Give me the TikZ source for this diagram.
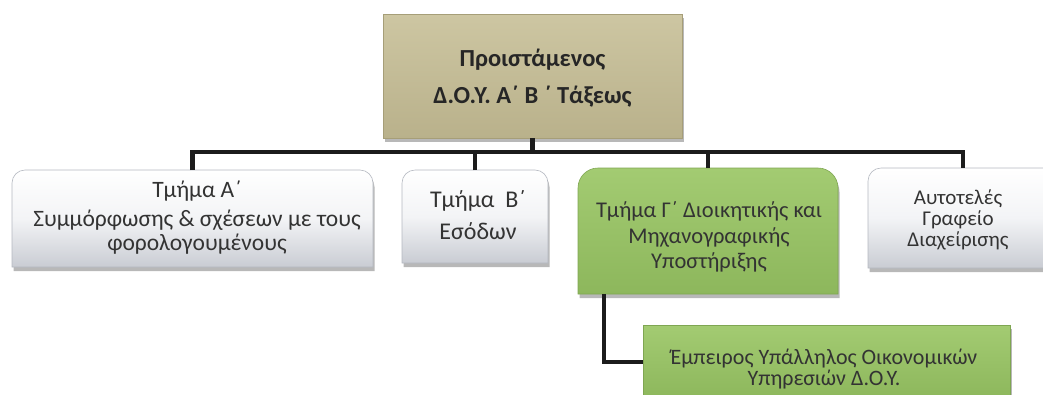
\documentclass[tikz,border=0pt]{standalone}
\usepackage{fontspec}
\setmainfont{Carlito}
\usetikzlibrary{shadows}
\definecolor{wTop}{HTML}{FFFFFF}
\definecolor{wMid}{HTML}{F3F4F6}
\definecolor{wBot}{HTML}{C9CCD3}
\definecolor{wEdge}{HTML}{B4B8C0}
\definecolor{gTop}{HTML}{A3CB72}
\definecolor{gBot}{HTML}{8DB75C}
\definecolor{gEdge}{HTML}{7FA652}
\definecolor{kTop}{HTML}{CDC6A2}
\definecolor{kBot}{HTML}{B9B18B}
\definecolor{kEdge}{HTML}{A69E78}
\definecolor{lineC}{HTML}{1C1C1C}
\definecolor{txtC}{HTML}{333333}
\begin{document}
\begin{tikzpicture}[x=1pt,y=-1pt,
  boxnode/.style={inner sep=0pt, outer sep=0pt, draw=none},
  shad/.style={drop shadow={shadow xshift=1.5pt, shadow yshift=-4pt, opacity=0.28, fill=black}},
  whitebox/.style={shad, draw=wEdge, line width=0.6pt, top color=wTop, bottom color=wBot, middle color=wMid},
  greenbox/.style={shad, draw=gEdge, line width=0.6pt, top color=gTop, bottom color=gBot},
  khakibox/.style={shad, draw=kEdge, line width=0.6pt, top color=kTop, bottom color=kBot},
  conn/.style={draw=lineC, line width=4.5pt},
  txt/.style={align=center, text=txtC, inner sep=0pt}
]
\useasboundingbox (0,0) rectangle (1043,394);
% box frames
\node[boxnode, minimum width=299pt, minimum height=124pt] (top) at (532.5,76) {};
\node[boxnode, minimum width=361pt, minimum height=97pt] (A) at (192.5,218.5) {};
\node[boxnode, minimum width=146pt, minimum height=93pt] (B) at (475,216.5) {};
\node[boxnode, minimum width=260pt, minimum height=126pt] (C) at (708,231) {};
\node[boxnode, minimum width=190pt, minimum height=100pt] (D) at (963,218) {};
\node[boxnode, minimum width=367pt, minimum height=74pt] (E) at (826.5,362) {};
\coordinate (bus) at (0,152);
% shapes
\path[khakibox] (top.south west) rectangle (top.north east);
\path[whitebox] (A.south west) [rounded corners=13pt] -- (A.north west) -- (A.north east) [sharp corners] -- (A.south east) -- cycle;
\path[whitebox] (B.south west) [rounded corners=13pt] -- (B.north west) -- (B.north east) [sharp corners] -- (B.south east) -- cycle;
\path[greenbox] (C.south west) [rounded corners=20pt] -- (C.north west) -- (C.north east) [sharp corners] -- (C.south east) -- cycle;
\path[whitebox] (D.south west) [rounded corners=13pt] -- (D.north west) -- (D.north east) [sharp corners] -- (D.south east) -- cycle;
\path[greenbox] (E.south west) rectangle (E.north east);
% connectors
\draw[conn] (top.south) -- (top.south |- bus);
\draw[conn] (A.north) |- (D.north |- bus) -- (D.north);
\draw[conn] (B.north) -- (B.north |- bus);
\draw[conn] (C.north) -- (C.north |- bus);
\coordinate (cdown) at ([xshift=26pt]C.south west);
\draw[conn] (cdown) |- (E.west);
% texts
\node[txt, font=\fontsize{24.5}{37}\selectfont\bfseries, text=black!85] (ttop) at (532.5,78) {Προιστάμενος\\Δ.Ο.Υ. Α΄ Β ΄ Τάξεως};
\node[txt, font=\fontsize{23.5}{24}\selectfont] (tA) at (197,218) {Τμήμα Α΄\\[5pt]Συμμόρφωσης \& σχέσεων με τους\\φορολογουμένους};
\node[txt, font=\fontsize{24}{32}\selectfont] (tB) at (478,215) {Τμήμα\hspace{0.45em}Β΄\\Εσόδων};
\node[txt, font=\fontsize{22.5}{25.5}\selectfont] (tC) at (709,237) {Τμήμα Γ΄ Διοικητικής και\\Μηχανογραφικής\\Υποστήριξης};
\node[txt, font=\fontsize{21}{21}\selectfont] (tD) at (958,220) {Αυτοτελές\\Γραφείο\\Διαχείρισης};
\node[txt, font=\fontsize{22}{21}\selectfont] (tE) at (824,369) {Έμπειρος Υπάλληλος Οικονομικών\\Υπηρεσιών Δ.Ο.Υ.};
\end{tikzpicture}
\end{document}
